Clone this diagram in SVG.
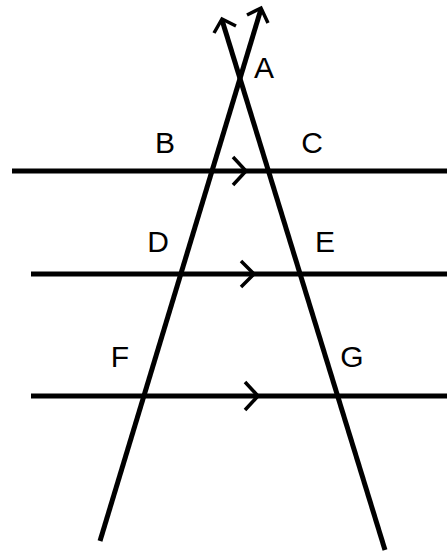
<svg xmlns="http://www.w3.org/2000/svg" width="447" height="551" viewBox="0 0 447 551">
<style>
.ln{stroke:#000;stroke-width:5;fill:none;stroke-linecap:butt}
.ch{stroke:#000;stroke-width:3.5;fill:none;stroke-linejoin:miter}
.lb{font-family:"Liberation Sans","DejaVu Sans",sans-serif;font-size:30px;fill:#000;text-anchor:middle}
</style>
<rect width="447" height="551" fill="#fff"/>
<g id="connectors">
<line class="ln" x1="100" y1="541" x2="261" y2="9"/>
<line class="ln" x1="385" y1="550" x2="222" y2="20"/>
<line class="ln" x1="12" y1="171" x2="447" y2="171"/>
<line class="ln" x1="31" y1="274" x2="447" y2="274"/>
<line class="ln" x1="31" y1="396" x2="447" y2="396"/>
<polyline class="ch" points="214,33 222,19 236,26"/>
<polyline class="ch" points="247,15 261,8 268,23"/>
<polyline class="ch" points="233,157 246,171 233,185"/>
<polyline class="ch" points="241,261 254,274 241,287"/>
<polyline class="ch" points="245,382 258,396 245,410"/>
</g>
<g id="A"><text class="lb" x="264" y="78">A</text></g>
<g id="B"><text class="lb" x="165" y="153">B</text></g>
<g id="C"><text class="lb" x="312" y="153">C</text></g>
<g id="D"><text class="lb" x="158" y="252">D</text></g>
<g id="E"><text class="lb" x="325" y="252">E</text></g>
<g id="F"><text class="lb" x="120" y="367">F</text></g>
<g id="G"><text class="lb" x="352" y="367">G</text></g>
</svg>
